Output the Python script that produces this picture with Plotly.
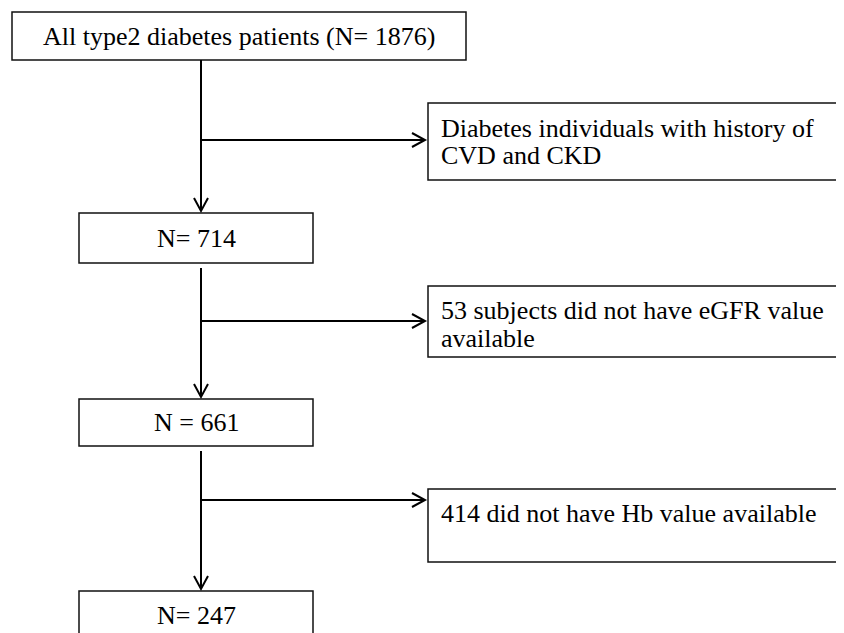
"""Flowchart of patient selection (type 2 diabetes cohort)."""

import plotly.graph_objects as go

# data
stage_counts = [1876, 714, 661, 247]
stage_labels = [
    "All type2 diabetes patients (N= 1876)",
    "N= 714",
    "N = 661",
    "N= 247",
]
excluded_lines = [
    ["Diabetes individuals with history of", "CVD and CKD"],
    ["53 subjects did not have eGFR value", "available"],
    ["414 did not have Hb value available"],
]

# layout (page pixel space; the html body adds an 8px margin)
W, H = 844, 633
PAD = 8
FONT = "Liberation Serif, Times New Roman, serif"
FS = 26
stage_boxes = [(12, 12, 466, 60), (79, 213, 313, 263), (79, 399, 313, 446), (79, 591, 313, 660)]
excl_boxes = [(428, 103, 838, 180), (428, 286, 838, 357), (428, 489, 838, 562)]
excl_text_y = [[128, 155], [310, 338], [513]]
spine_x = 201
branch_y = [140, 321, 500]

fig = go.Figure()
shapes = []
annotations = []


def box(x0, y0, x1, y1):
    shapes.append(dict(type="rect", x0=x0, y0=y0, x1=x1, y1=y1,
                       line=dict(color="#111", width=1.5), fillcolor="white", layer="below"))


def line(x0, y0, x1, y1):
    shapes.append(dict(type="line", x0=x0, y0=y0, x1=x1, y1=y1,
                       line=dict(color="black", width=2)))


def head_down(x, y):
    shapes.append(dict(type="path", path=f"M {x-7},{y-13} L {x},{y} L {x+7},{y-13}",
                       line=dict(color="black", width=2)))


def head_right(x, y):
    shapes.append(dict(type="path", path=f"M {x-13},{y-7} L {x},{y} L {x-13},{y+7}",
                       line=dict(color="black", width=2)))


def text(x, y, s, anchor):
    annotations.append(dict(x=x, y=y, text=s, showarrow=False,
                            xanchor=anchor, yanchor="middle",
                            font=dict(family=FONT, size=FS, color="black")))


for (x0, y0, x1, y1), label in zip(stage_boxes, stage_labels):
    box(x0, y0, x1, y1)
    cy = (y0 + y1) / 2 if y1 < H else y0 + 24
    text((x0 + x1) / 2, cy, label, "center")

for (x0, y0, x1, y1), lines, ys in zip(excl_boxes, excluded_lines, excl_text_y):
    box(x0, y0, x1, y1)
    for s, ty in zip(lines, ys):
        text(x0 + 11, ty, s, "left")

# vertical connectors between stages
for i in range(len(stage_counts) - 1):
    top = stage_boxes[i][3] + (0 if i == 0 else 5)
    bottom = stage_boxes[i + 1][1] - 2
    line(spine_x, top, spine_x, bottom)
    head_down(spine_x, bottom)

# horizontal exclusion arrows
for y, (bx0, _, _, _) in zip(branch_y, excl_boxes):
    line(spine_x, y, bx0 - 3, y)
    head_right(bx0 - 3, y)

fig.update_layout(
    width=W - PAD, height=H - PAD,
    margin=dict(l=0, r=0, t=0, b=0),
    paper_bgcolor="white", plot_bgcolor="white",
    xaxis=dict(range=[PAD, W], visible=False, fixedrange=True),
    yaxis=dict(range=[H, PAD], visible=False, fixedrange=True),
    shapes=shapes,
    annotations=annotations,
    showlegend=False,
)

fig.write_html("out.html")
